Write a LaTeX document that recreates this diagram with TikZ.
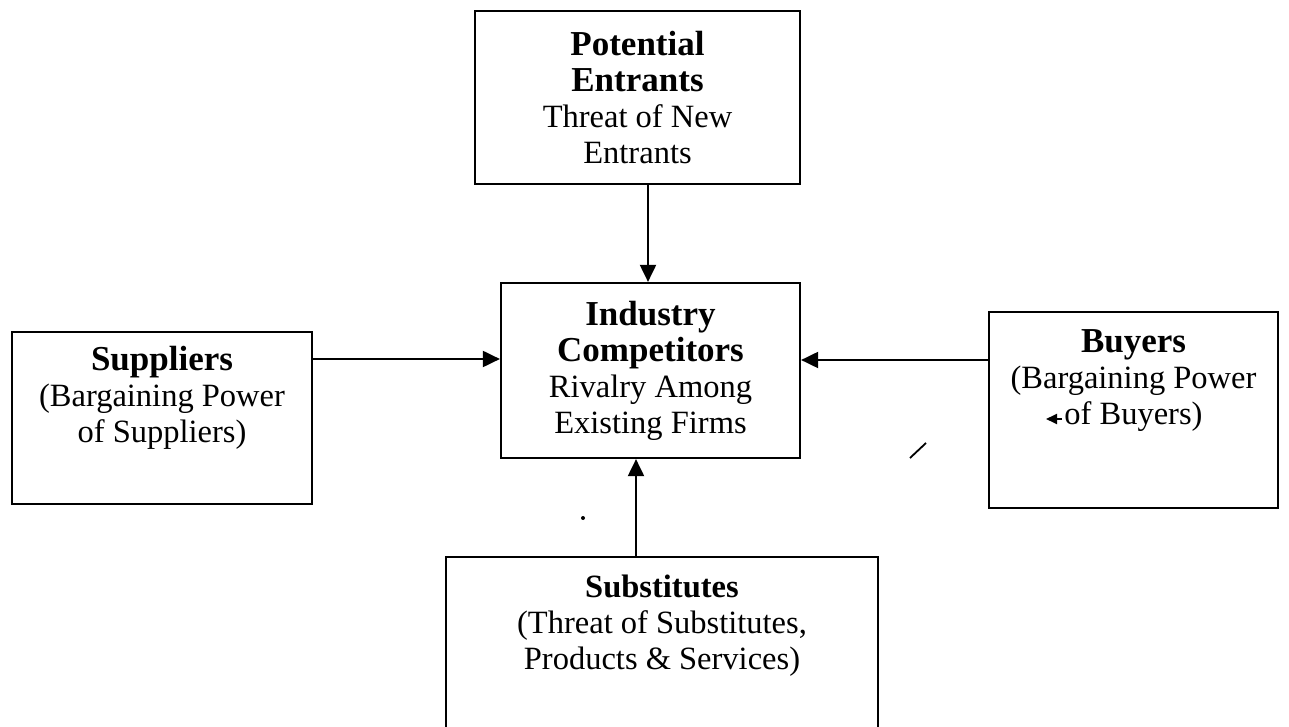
\documentclass[tikz,border=0pt]{standalone}
\usepackage{fontspec}
\setmainfont{Liberation Serif}
\usetikzlibrary{arrows.meta}
\tikzset{force/.style={draw, line width=2.2pt, inner sep=0pt, align=center,
    font=\fontsize{32.5}{36}\selectfont},
  forcetext/.style={anchor=north, inner sep=0pt, align=center,
    font=\fontsize{32.5}{36}\selectfont},
  pull/.style={line width=2pt, -{Triangle[length=17pt,width=16pt]}}}
\newcommand{\forcehead}[1]{{\fontsize{35}{36}\selectfont\bfseries #1}}
\begin{document}
\begin{tikzpicture}[x=1pt,y=1pt]
\useasboundingbox (0,0) rectangle (1289,726);
\node[force, minimum width=325pt, minimum height=173pt] (entr) at (637.5,628.5)
  {\forcehead{Potential}\\\forcehead{Entrants}\\Threat of New\\Entrants};
\node[force, minimum width=299pt, minimum height=175pt] (ind) at (650.5,355.5)
  {\forcehead{Industry}\\\forcehead{Competitors}\\Rivalry Among\\Existing Firms};
\node[force, minimum width=300pt, minimum height=172pt] (sup) at (162,308) {};
\node[forcetext] (suptext) at ([yshift=-15pt]sup.north)
  {\forcehead{Suppliers}\\(Bargaining Power\\of Suppliers)};
\node[force, minimum width=289pt, minimum height=196pt] (buy) at (1133.5,316) {};
\node[forcetext] (buytext) at ([yshift=-18pt]buy.north)
  {\forcehead{Buyers}\\(Bargaining Power\\of Buyers)};
\node[force, minimum width=432pt, minimum height=199pt] (subs) at (662,69.5) {};
\node[forcetext] (substext) at ([yshift=-19pt]subs.north)
  {\textbf{Substitutes}\\(Threat of Substitutes,\\Products \& Services)};
\coordinate (entrin) at ([xshift=-2.5pt]ind.north);
\coordinate (supin) at ([yshift=11.5pt]ind.west);
\coordinate (buyin) at ([yshift=10.5pt]ind.east);
\coordinate (subin) at ([xshift=-14.5pt]ind.south);
\draw[pull] (entr.south -| entrin) -- (entrin);
\draw[pull] (sup.east |- supin) -- (supin);
\draw[pull] (buy.west |- buyin) -- (buyin);
\draw[pull] (subs.north -| subin) -- (subin);
\draw[line width=2pt, -{Triangle[length=11pt,width=10pt]}] (1062,307) -- (1046,307);
\draw[line width=1.8pt] (910,268) -- (926,283);
\fill (583,208) circle (2);
\end{tikzpicture}
\end{document}
